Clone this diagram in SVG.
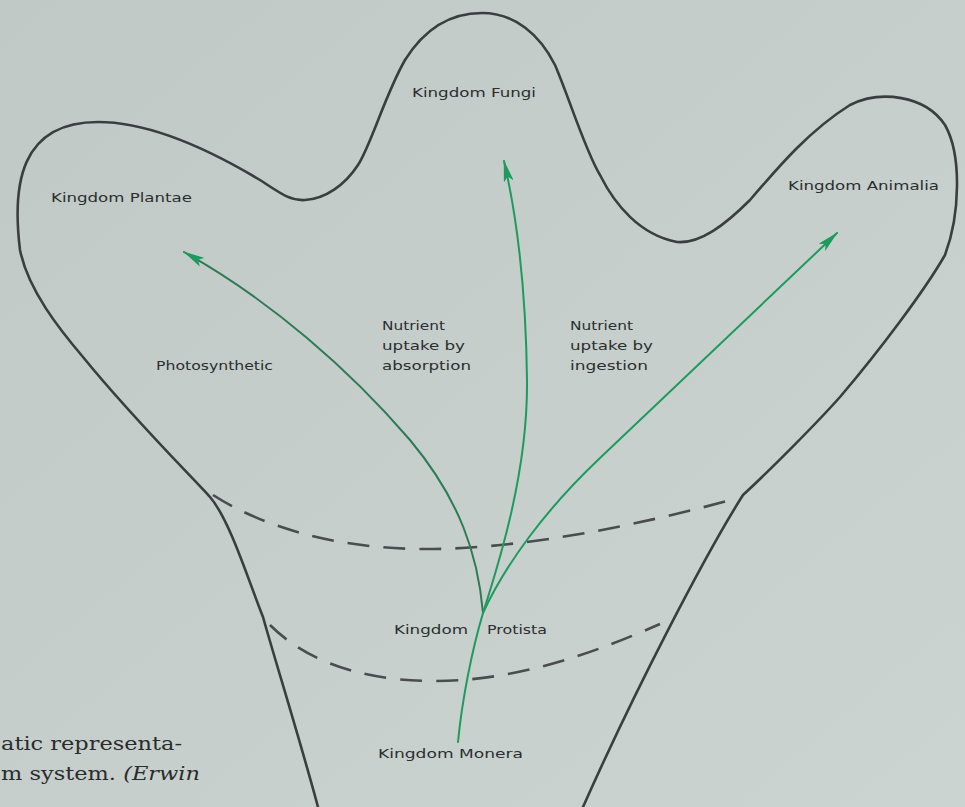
<svg xmlns="http://www.w3.org/2000/svg" width="965" height="807" viewBox="0 0 965 807">
<style>
.lbl{font-family:"DejaVu Sans","Liberation Sans",sans-serif;font-size:13px;fill:#2b2e2e}
.cap{font-family:"DejaVu Serif","Liberation Serif",serif;font-size:19px;fill:#2a2c2c}
.outline{fill:none;stroke:#3b3e3e;stroke-width:2.6;stroke-linecap:round;stroke-linejoin:round}
.dash{fill:none;stroke:#4a4d4d;stroke-width:2.6;stroke-dasharray:22 14}
.green{fill:none;stroke:#1e9a5e;stroke-width:2;stroke-linecap:round}
</style>
<defs>
<linearGradient id="bg" x1="0" y1="0" x2="1" y2="1">
<stop offset="0" stop-color="#c1c9c7"/>
<stop offset="1" stop-color="#ccd4d2"/>
</linearGradient>
<marker id="ah" markerUnits="userSpaceOnUse" markerWidth="22" markerHeight="10" viewBox="0 0 22 10" refX="21" refY="5" orient="auto">
<path d="M0,0 L22,5 L0,10 L5,5 Z" fill="#1e9a5e"/>
</marker>
</defs>
<rect width="965" height="807" fill="url(#bg)"/>
<g id="outline">
<path class="outline" d="M318,807 C300,740 275,660 263,617 C250,585 230,520 210,497 C190,475 130,415 83,357 C60,330 28,290 20,250 C12,185 20,122 98,122 C150,122 210,150 260,180 C280,193 290,201 305,200 C325,199 345,185 358,165 C371,145 385,95 405,60 C425,28 450,13 482,13 C515,13 540,35 555,65 C570,100 585,150 600,175 C615,205 640,235 677,242 C700,244 725,225 750,200 C780,165 810,130 850,105 C880,90 925,95 945,125 C962,155 960,215 945,255 C925,290 880,350 840,397 C815,425 770,470 743,495 C705,555 635,690 583,807"/>
</g>
<g id="boundaries">
<path class="dash" d="M213,495 C260,525 330,548 420,549 C520,550 640,525 738,498"/>
<path class="dash" d="M270,625 C300,655 350,680 430,681 C520,682 600,650 660,624"/>
</g>
<g id="connectors">
<path class="green" d="M458,742 C462,700 472,650 483,613"/>
<path class="green" style="stroke:#2e7a55" d="M483,613 C478,555 460,500 410,440 C350,370 270,300 184,252" marker-end="url(#ah)"/>
<path class="green" d="M483,613 C500,560 528,470 527,380 C526,300 520,230 504,161" marker-end="url(#ah)"/>
<path class="green" d="M483,613 C505,565 545,510 600,458 L837,233" marker-end="url(#ah)"/>
</g>
<g id="node-fungi"><text class="lbl" x="412" y="97" textLength="124" lengthAdjust="spacingAndGlyphs">Kingdom Fungi</text></g>
<g id="node-plantae"><text class="lbl" x="51" y="202" textLength="141" lengthAdjust="spacingAndGlyphs">Kingdom Plantae</text></g>
<g id="node-animalia"><text class="lbl" x="788" y="190" textLength="151" lengthAdjust="spacingAndGlyphs">Kingdom Animalia</text></g>
<g id="label-photo"><text class="lbl" x="156" y="370" textLength="117" lengthAdjust="spacingAndGlyphs">Photosynthetic</text></g>
<g id="label-absorption">
<text class="lbl" x="382" y="330" textLength="63" lengthAdjust="spacingAndGlyphs">Nutrient</text>
<text class="lbl" x="382" y="350" textLength="83" lengthAdjust="spacingAndGlyphs">uptake by</text>
<text class="lbl" x="382" y="370" textLength="89" lengthAdjust="spacingAndGlyphs">absorption</text>
</g>
<g id="label-ingestion">
<text class="lbl" x="570" y="330" textLength="63" lengthAdjust="spacingAndGlyphs">Nutrient</text>
<text class="lbl" x="570" y="350" textLength="83" lengthAdjust="spacingAndGlyphs">uptake by</text>
<text class="lbl" x="570" y="370" textLength="78" lengthAdjust="spacingAndGlyphs">ingestion</text>
</g>
<g id="node-protista">
<text class="lbl" x="394" y="634" font-size="14" textLength="74" lengthAdjust="spacingAndGlyphs">Kingdom</text>
<text class="lbl" x="487" y="634" font-size="14" textLength="60" lengthAdjust="spacingAndGlyphs">Protista</text>
</g>
<g id="node-monera"><text class="lbl" x="378" y="758" font-size="14" textLength="145" lengthAdjust="spacingAndGlyphs">Kingdom Monera</text></g>
<g id="caption">
<text class="cap" x="1" y="750" textLength="181" lengthAdjust="spacingAndGlyphs">atic representa-</text>
<text class="cap" x="1" y="780" textLength="199" lengthAdjust="spacingAndGlyphs">m system. <tspan font-style="italic">(Erwin</tspan></text>
</g>
</svg>
